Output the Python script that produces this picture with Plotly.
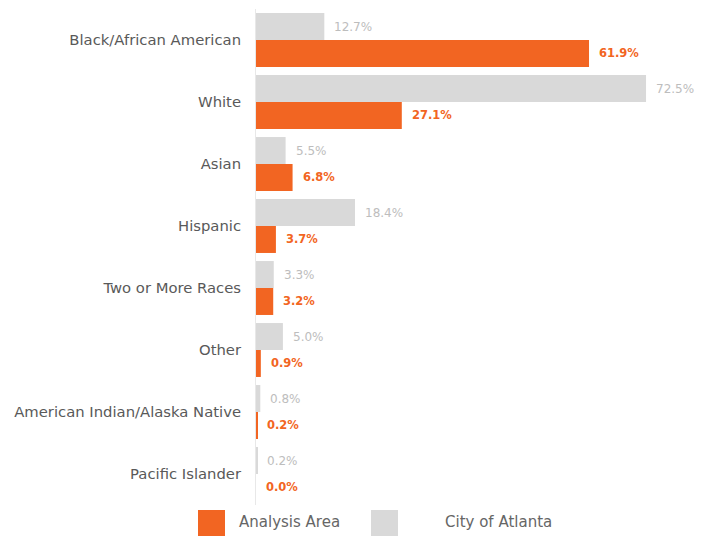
import plotly.graph_objects as go

# Race / ethnicity shares, in percent
categories = [
    "Black/African American",
    "White",
    "Asian",
    "Hispanic",
    "Two or More Races",
    "Other",
    "American Indian/Alaska Native",
    "Pacific Islander",
]
city_of_atlanta = [12.7, 72.5, 5.5, 18.4, 3.3, 5.0, 0.8, 0.2]
analysis_area = [61.9, 27.1, 6.8, 3.7, 3.2, 0.9, 0.2, 0.0]
series_names = ["Analysis Area", "City of Atlanta"]

ORANGE = "#F26522"
GRAY = "#D9D9D9"
GRAY_TEXT = "#BDBDBD"
FONT = "'DejaVu Sans', sans-serif"

W, H = 709, 536
M_L, M_R, M_T, M_B = 256, 9, 9, 31
plot_w = W - M_L - M_R
plot_h = H - M_T - M_B


def px_x(px):
    return (px - M_L) / plot_w


def px_y(py):
    return (H - M_B - py) / plot_h


fig = go.Figure()
fig.add_trace(go.Bar(
    y=categories, x=city_of_atlanta, orientation="h",
    name=series_names[1], marker=dict(color=GRAY, line=dict(width=0)),
    hovertemplate="%{y}: %{x:.1f}%<extra>City of Atlanta</extra>",
))
fig.add_trace(go.Bar(
    y=categories, x=analysis_area, orientation="h",
    name=series_names[0], marker=dict(color=ORANGE, line=dict(width=0)),
    hovertemplate="%{y}: %{x:.1f}%<extra>Analysis Area</extra>",
))

# value labels at the end of each bar
annotations = []
bar_px = plot_h / len(categories) * (1 - 0.13) / 2
for cat, cv, av in zip(categories, city_of_atlanta, analysis_area):
    annotations.append(dict(
        x=cv, y=cat, xref="x", yref="y", text=f"{cv:.1f}%",
        showarrow=False, xanchor="left", yanchor="middle",
        xshift=8, yshift=bar_px / 2,
        font=dict(family=FONT, size=12, color=GRAY_TEXT),
    ))
    annotations.append(dict(
        x=av, y=cat, xref="x", yref="y", text=f"<b>{av:.1f}%</b>",
        showarrow=False, xanchor="left", yanchor="middle",
        xshift=8, yshift=-bar_px / 2,
        font=dict(family=FONT, size=11.5, color=ORANGE),
    ))

# legend drawn as swatches + labels below the plot
shapes = []
legend_items = [(198, 237, ORANGE, series_names[0]), (371, 443, GRAY, series_names[1])]
for sx, tx, col, label in legend_items:
    shapes.append(dict(
        type="rect", xref="paper", yref="paper",
        x0=px_x(sx), x1=px_x(sx + 27), y0=px_y(510), y1=px_y(536),
        fillcolor=col, line=dict(width=0), layer="above",
    ))
    annotations.append(dict(
        x=px_x(tx), y=px_y(522), xref="paper", yref="paper", text=label,
        showarrow=False, xanchor="left", yanchor="middle",
        font=dict(family=FONT, size=15, color="#666666"),
    ))

fig.update_layout(
    width=W, height=H,
    margin=dict(l=M_L, r=M_R, t=M_T, b=M_B),
    paper_bgcolor="white", plot_bgcolor="white",
    barmode="group", bargap=0.13, bargroupgap=0,
    showlegend=False,
    annotations=annotations, shapes=shapes,
    xaxis=dict(range=[0, plot_w / 5.38], visible=False, fixedrange=True),
    yaxis=dict(
        autorange="reversed", showgrid=False, zeroline=False,
        showline=True, linecolor="#E8E8E8", linewidth=1,
        ticks="", ticklabelstandoff=11,
        tickfont=dict(family=FONT, size=14.8, color="#595959"),
    ),
)

fig.write_html("out.html")
